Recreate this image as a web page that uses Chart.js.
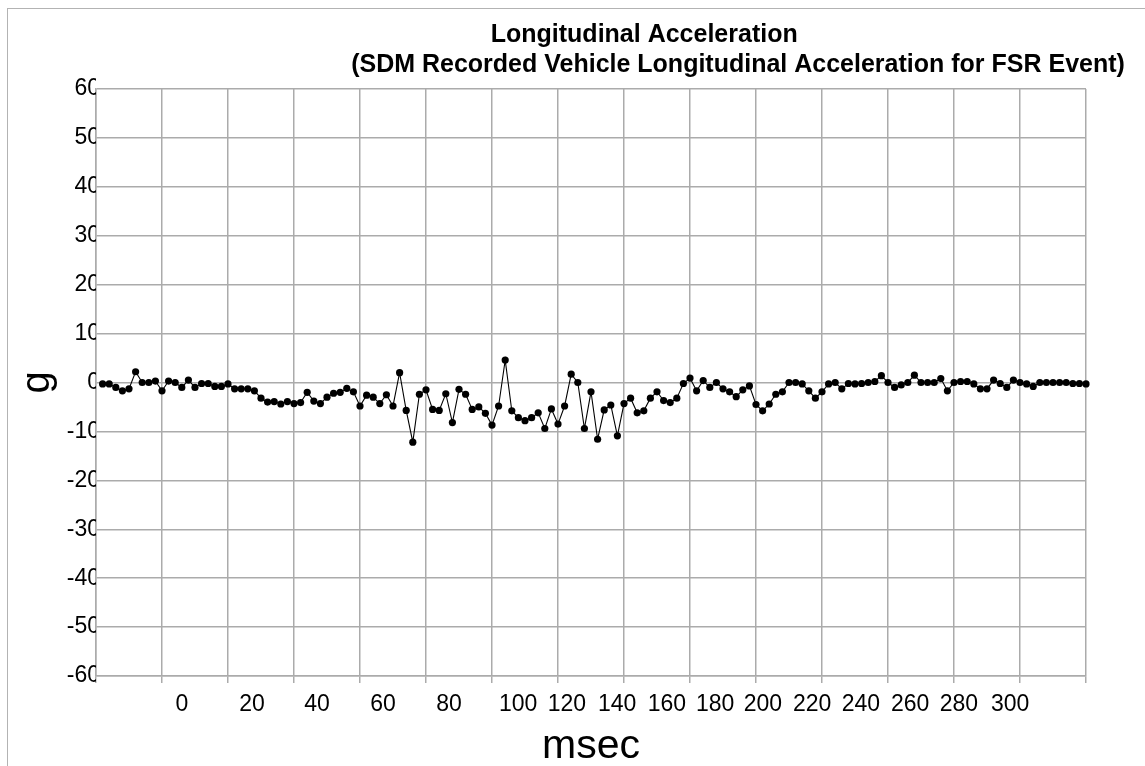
<!DOCTYPE html>
<html>
<head>
<meta charset="utf-8">
<script src="https://cdn.jsdelivr.net/npm/chart.js@4/dist/chart.umd.min.js"></script>
<style>
  html, body { margin: 0; padding: 0; background: #fff; overflow: hidden; }
  #frame {
    position: absolute; left: 7px; top: 8px;
    width: 1460px; height: 770px;
    border-left: 1px solid #b3b3b3; border-top: 1px solid #b3b3b3;
  }
</style>
</head>
<body>
<div id="frame"><canvas id="accel"></canvas></div>
<script>
// sample times, msec
const msec = [
  -18, -16, -14, -12, -10, -8, -6, -4, -2, 0,
  2, 4, 6, 8, 10, 12, 14, 16, 18, 20,
  22, 24, 26, 28, 30, 32, 34, 36, 38, 40,
  42, 44, 46, 48, 50, 52, 54, 56, 58, 60,
  62, 64, 66, 68, 70, 72, 74, 76, 78, 80,
  82, 84, 86, 88, 90, 92, 94, 96, 98, 100,
  102, 104, 106, 108, 110, 112, 114, 116, 118, 120,
  122, 124, 126, 128, 130, 132, 134, 136, 138, 140,
  142, 144, 146, 148, 150, 152, 154, 156, 158, 160,
  162, 164, 166, 168, 170, 172, 174, 176, 178, 180,
  182, 184, 186, 188, 190, 192, 194, 196, 198, 200,
  202, 204, 206, 208, 210, 212, 214, 216, 218, 220,
  222, 224, 226, 228, 230, 232, 234, 236, 238, 240,
  242, 244, 246, 248, 250, 252, 254, 256, 258, 260,
  262, 264, 266, 268, 270, 272, 274, 276, 278, 280
];

// longitudinal acceleration, g
const accel = [
  -0.3, -0.3, -1.0, -1.7, -1.3, 2.2, 0, 0, 0.3, -1.7,
  0.3, 0, -1.0, 0.5, -1.0, -0.2, -0.2, -0.8, -0.8, -0.3,
  -1.3, -1.3, -1.3, -1.7, -3.2, -4.0, -3.9, -4.4, -3.9, -4.3,
  -4.1, -2.0, -3.8, -4.3, -3.0, -2.2, -2.0, -1.2, -1.9, -4.8,
  -2.6, -3.0, -4.3, -2.5, -4.8, 2.0, -5.7, -12.2, -2.4, -1.5,
  -5.5, -5.7, -2.3, -8.2, -1.4, -2.4, -5.5, -5.0, -6.3, -8.7,
  -4.8, 4.6, -5.8, -7.2, -7.8, -7.2, -6.2, -9.4, -5.4, -8.5,
  -4.8, 1.7, 0, -9.4, -1.9, -11.6, -5.6, -4.6, -10.9, -4.3,
  -3.2, -6.2, -5.8, -3.2, -1.9, -3.7, -4.1, -3.2, -0.2, 0.9,
  -1.7, 0.4, -1.0, 0, -1.3, -1.9, -2.9, -1.5, -0.7, -4.5,
  -5.8, -4.4, -2.4, -1.9, 0, 0, -0.3, -1.7, -3.2, -1.9,
  -0.3, 0, -1.3, -0.2, -0.3, -0.2, 0, 0.2, 1.4, 0,
  -1.0, -0.5, 0, 1.5, 0, 0, 0, 0.8, -1.7, 0,
  0.2, 0.2, -0.3, -1.3, -1.3, 0.5, -0.2, -1.0, 0.5, 0,
  -0.3, -0.8, 0, 0, 0, 0, 0, -0.2, -0.2, -0.3
];

const tickLabels = ['0', '20', '40', '60', '80', '100', '120', '140', '160',
  '180', '200', '220', '240', '260', '280', '300'];

// where the original drew those labels along the msec scale
const labelSpots = [6, 27.3, 47, 67, 87, 107.9, 122.7, 137.9, 153, 167.6,
  182.1, 197, 211.8, 226.7, 241.5, 257];

const font = 'Liberation Sans, Arial, sans-serif';
const gridColor = '#ababab';

new Chart(document.getElementById('accel'), {
  type: 'line',
  data: {
    datasets: [{
      data: msec.map((m, i) => ({ x: m, y: accel[i] })),
      borderColor: '#000',
      borderWidth: 1.1,
      backgroundColor: '#000',
      pointRadius: 3.6,
      pointBorderWidth: 0,
      pointBackgroundColor: '#000',
      tension: 0,
      clip: false
    }]
  },
  options: {
    responsive: true,
    maintainAspectRatio: false,
    animation: false,
    layout: { padding: 0 },
    plugins: {
      legend: { display: false },
      tooltip: { enabled: false },
      title: {
        display: true,
        text: 'Longitudinal Acceleration' + '\u00a0'.repeat(27),
        color: '#000',
        font: { family: font, size: 25, weight: 'bold', lineHeight: 1.2 },
        padding: { top: 11, bottom: 0 }
      },
      subtitle: {
        display: true,
        text: '(SDM Recorded Vehicle Longitudinal Acceleration for FSR Event)',
        color: '#000',
        font: { family: font, size: 25, weight: 'bold', lineHeight: 1.2 },
        padding: { top: 0, bottom: 9 }
      }
    },
    scales: {
      x: {
        type: 'linear',
        min: -20,
        max: 280,
        weight: 0,
        border: { color: gridColor, width: 1.5 },
        grid: { color: gridColor, lineWidth: 1.5, tickLength: 7, drawTicks: true },
        ticks: { stepSize: 20, display: false }
      },
      xl: {
        type: 'linear',
        position: 'bottom',
        min: -20,
        max: 280,
        weight: 1,
        afterFit: (axis) => { axis.height = 96; },
        border: { display: false },
        grid: { display: false, drawTicks: false },
        afterBuildTicks: (axis) => { axis.ticks = labelSpots.map(v => ({ value: v })); },
        ticks: {
          autoSkip: false,
          maxRotation: 0,
          padding: 8,
          color: '#000',
          font: { family: font, size: 23 },
          callback: (v, i) => tickLabels[i]
        },
        title: {
          display: true,
          text: 'msec',
          color: '#000',
          font: { family: font, size: 41, lineHeight: 1.2 },
          padding: { top: 0, bottom: 8 }
        }
      },
      y: {
        min: -60,
        max: 60,
        afterFit: (axis) => { axis.width = 88; },
        border: { color: gridColor, width: 1.5 },
        grid: { color: gridColor, lineWidth: 1.5, drawTicks: false },
        ticks: {
          stepSize: 10,
          padding: -4,
          color: '#000',
          font: { family: font, size: 23 }
        },
        title: {
          display: true,
          text: 'g',
          color: '#000',
          font: { family: font, size: 40, lineHeight: 1.2 },
          padding: { top: 6, bottom: 0 }
        }
      },
      // empty strip on the right, the frame runs on past the picture
      yr: {
        position: 'right',
        afterFit: (axis) => { axis.width = 382; },
        border: { display: false },
        grid: { display: false, drawTicks: false },
        ticks: { display: false }
      }
    }
  }
});
</script>
</body>
</html>
